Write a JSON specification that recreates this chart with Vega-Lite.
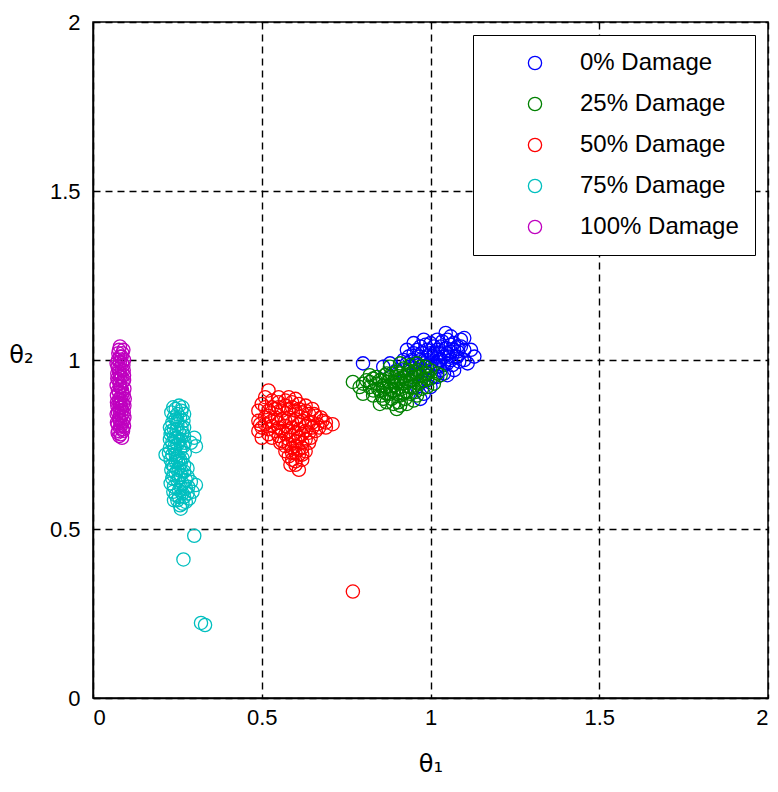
{
  "$schema": "https://vega.github.io/schema/vega-lite/v6.json",
  "width": 675,
  "height": 676,
  "autosize": {"type": "none"},
  "padding": {"left": 93, "top": 22, "right": 10, "bottom": 94},
  "background": "white",
  "config": {
    "view": {"stroke": "black", "strokeWidth": 1.5},
    "font": "Liberation Sans",
    "axis": {
      "grid": true, "gridColor": "black", "gridDash": [7, 5], "gridOpacity": 1, "gridWidth": 1.4,
      "domainColor": "black", "domainWidth": 1.5, "ticks": false,
      "labelColor": "black", "labelFontSize": 22, "labelFont": "Liberation Sans",
      "titleColor": "black", "titleFontSize": 24, "titleFontWeight": "normal", "titleFont": "DejaVu Sans"
    },
    "legend": {
      "orient": "none", "legendX": 380, "legendY": 13,
      "strokeColor": "black", "fillColor": "white", "padding": 16,
      "symbolOffset": 34, "labelOffset": 33, "rowPadding": 17,
      "labelFontSize": 24, "labelFont": "Liberation Sans", "labelColor": "black", "labelLimit": 400,
      "symbolSize": 175, "symbolStrokeWidth": 1.3
    }
  },
  "data": {"values": [
    {"d":"0% Damage","x":0.8,"y":0.99},{"d":"0% Damage","x":0.92,"y":1.0},{"d":"0% Damage","x":0.93,"y":1.03},{"d":"0% Damage","x":0.94,"y":0.98},{"d":"0% Damage","x":0.95,"y":1.02},{"d":"0% Damage","x":0.96,"y":0.96},{"d":"0% Damage","x":0.97,"y":1.04},{"d":"0% Damage","x":0.97,"y":1.0},{"d":"0% Damage","x":0.98,"y":0.97},{"d":"0% Damage","x":0.99,"y":1.03},{"d":"0% Damage","x":1.0,"y":0.99},{"d":"0% Damage","x":1.0,"y":1.05},{"d":"0% Damage","x":1.01,"y":0.95},{"d":"0% Damage","x":1.01,"y":1.02},{"d":"0% Damage","x":1.02,"y":0.98},{"d":"0% Damage","x":1.03,"y":1.04},{"d":"0% Damage","x":1.03,"y":1.0},{"d":"0% Damage","x":1.045,"y":1.08},{"d":"0% Damage","x":1.04,"y":0.96},{"d":"0% Damage","x":1.05,"y":1.02},{"d":"0% Damage","x":1.05,"y":0.99},{"d":"0% Damage","x":1.06,"y":1.045},{"d":"0% Damage","x":1.06,"y":1.0},{"d":"0% Damage","x":1.07,"y":1.03},{"d":"0% Damage","x":1.07,"y":0.97},{"d":"0% Damage","x":1.08,"y":1.01},{"d":"0% Damage","x":1.09,"y":1.06},{"d":"0% Damage","x":1.1,"y":1.03},{"d":"0% Damage","x":1.11,"y":0.99},{"d":"0% Damage","x":1.13,"y":1.01},{"d":"0% Damage","x":0.96,"y":0.92},{"d":"0% Damage","x":0.98,"y":0.9},{"d":"0% Damage","x":0.99,"y":0.94},{"d":"0% Damage","x":0.94,"y":0.94},{"d":"0% Damage","x":0.97,"y":0.885},{"d":"0% Damage","x":1.0,"y":0.92},{"d":"0% Damage","x":1.02,"y":1.06},{"d":"0% Damage","x":0.95,"y":1.05},{"d":"0% Damage","x":1.04,"y":1.01},{"d":"0% Damage","x":0.98,"y":1.06},{"d":"0% Damage","x":0.93,"y":0.99},{"d":"0% Damage","x":1.02,"y":1.01},{"d":"0% Damage","x":1.08,"y":1.04},{"d":"0% Damage","x":0.99,"y":1.0},{"d":"0% Damage","x":1.06,"y":1.07},{"d":"0% Damage","x":1.0,"y":1.02},
    {"d":"0% Damage","x":0.9,"y":0.97},{"d":"0% Damage","x":0.92,"y":0.97},{"d":"0% Damage","x":0.935,"y":1.01},{"d":"0% Damage","x":0.945,"y":1.0},{"d":"0% Damage","x":0.955,"y":0.99},{"d":"0% Damage","x":0.96,"y":1.03},{"d":"0% Damage","x":0.965,"y":1.01},{"d":"0% Damage","x":0.975,"y":1.02},{"d":"0% Damage","x":0.98,"y":0.99},{"d":"0% Damage","x":0.985,"y":1.045},{"d":"0% Damage","x":0.99,"y":0.98},{"d":"0% Damage","x":1.005,"y":1.01},{"d":"0% Damage","x":1.01,"y":1.04},{"d":"0% Damage","x":1.015,"y":0.99},{"d":"0% Damage","x":1.02,"y":1.03},{"d":"0% Damage","x":1.025,"y":1.0},{"d":"0% Damage","x":1.03,"y":1.02},{"d":"0% Damage","x":1.035,"y":1.055},{"d":"0% Damage","x":1.04,"y":0.985},{"d":"0% Damage","x":1.045,"y":1.035},{"d":"0% Damage","x":1.05,"y":1.06},{"d":"0% Damage","x":1.055,"y":1.01},{"d":"0% Damage","x":1.06,"y":1.025},{"d":"0% Damage","x":1.065,"y":0.985},{"d":"0% Damage","x":1.07,"y":1.05},{"d":"0% Damage","x":1.075,"y":1.01},{"d":"0% Damage","x":1.08,"y":1.025},{"d":"0% Damage","x":1.085,"y":0.995},{"d":"0% Damage","x":1.09,"y":1.04},{"d":"0% Damage","x":1.1,"y":1.065},{"d":"0% Damage","x":1.1,"y":1.0},{"d":"0% Damage","x":1.12,"y":1.03},{"d":"0% Damage","x":1.03,"y":0.97},{"d":"0% Damage","x":1.05,"y":0.955},{"d":"0% Damage","x":1.02,"y":0.95},{"d":"0% Damage","x":0.88,"y":0.99},{"d":"0% Damage","x":0.86,"y":0.98},
    {"d":"25% Damage","x":0.77,"y":0.935},{"d":"25% Damage","x":0.79,"y":0.92},{"d":"25% Damage","x":0.8,"y":0.9},{"d":"25% Damage","x":0.81,"y":0.94},{"d":"25% Damage","x":0.82,"y":0.92},{"d":"25% Damage","x":0.83,"y":0.895},{"d":"25% Damage","x":0.84,"y":0.93},{"d":"25% Damage","x":0.84,"y":0.95},{"d":"25% Damage","x":0.85,"y":0.91},{"d":"25% Damage","x":0.86,"y":0.94},{"d":"25% Damage","x":0.86,"y":0.885},{"d":"25% Damage","x":0.87,"y":0.96},{"d":"25% Damage","x":0.87,"y":0.92},{"d":"25% Damage","x":0.88,"y":0.9},{"d":"25% Damage","x":0.88,"y":0.95},{"d":"25% Damage","x":0.89,"y":0.935},{"d":"25% Damage","x":0.89,"y":0.87},{"d":"25% Damage","x":0.9,"y":0.965},{"d":"25% Damage","x":0.9,"y":0.915},{"d":"25% Damage","x":0.9,"y":0.855},{"d":"25% Damage","x":0.91,"y":0.945},{"d":"25% Damage","x":0.91,"y":0.895},{"d":"25% Damage","x":0.92,"y":0.975},{"d":"25% Damage","x":0.92,"y":0.93},{"d":"25% Damage","x":0.93,"y":0.955},{"d":"25% Damage","x":0.93,"y":0.905},{"d":"25% Damage","x":0.93,"y":0.87},{"d":"25% Damage","x":0.94,"y":0.985},{"d":"25% Damage","x":0.94,"y":0.94},{"d":"25% Damage","x":0.95,"y":0.965},{"d":"25% Damage","x":0.95,"y":0.92},{"d":"25% Damage","x":0.96,"y":0.95},{"d":"25% Damage","x":0.96,"y":0.895},{"d":"25% Damage","x":0.97,"y":0.98},{"d":"25% Damage","x":0.97,"y":0.935},{"d":"25% Damage","x":0.98,"y":0.96},{"d":"25% Damage","x":0.99,"y":0.945},{"d":"25% Damage","x":1.0,"y":0.97},{"d":"25% Damage","x":1.01,"y":0.93},{"d":"25% Damage","x":1.03,"y":0.955},{"d":"25% Damage","x":0.85,"y":0.87},{"d":"25% Damage","x":0.91,"y":0.99},{"d":"25% Damage","x":0.95,"y":0.88},{"d":"25% Damage","x":0.82,"y":0.955},{"d":"25% Damage","x":0.88,"y":0.98},{"d":"25% Damage","x":0.86,"y":0.915},{"d":"25% Damage","x":0.9,"y":0.94},{"d":"25% Damage","x":0.92,"y":0.9},{"d":"25% Damage","x":0.94,"y":0.96},{"d":"25% Damage","x":0.89,"y":0.91},
    {"d":"25% Damage","x":0.8,"y":0.93},{"d":"25% Damage","x":0.82,"y":0.935},{"d":"25% Damage","x":0.83,"y":0.91},{"d":"25% Damage","x":0.83,"y":0.945},{"d":"25% Damage","x":0.845,"y":0.915},{"d":"25% Damage","x":0.85,"y":0.94},{"d":"25% Damage","x":0.855,"y":0.895},{"d":"25% Damage","x":0.86,"y":0.925},{"d":"25% Damage","x":0.865,"y":0.955},{"d":"25% Damage","x":0.87,"y":0.9},{"d":"25% Damage","x":0.875,"y":0.935},{"d":"25% Damage","x":0.88,"y":0.915},{"d":"25% Damage","x":0.885,"y":0.96},{"d":"25% Damage","x":0.885,"y":0.885},{"d":"25% Damage","x":0.895,"y":0.925},{"d":"25% Damage","x":0.895,"y":0.95},{"d":"25% Damage","x":0.9,"y":0.9},{"d":"25% Damage","x":0.905,"y":0.875},{"d":"25% Damage","x":0.905,"y":0.935},{"d":"25% Damage","x":0.91,"y":0.96},{"d":"25% Damage","x":0.915,"y":0.915},{"d":"25% Damage","x":0.92,"y":0.95},{"d":"25% Damage","x":0.925,"y":0.885},{"d":"25% Damage","x":0.93,"y":0.935},{"d":"25% Damage","x":0.935,"y":0.97},{"d":"25% Damage","x":0.94,"y":0.92},{"d":"25% Damage","x":0.94,"y":0.9},{"d":"25% Damage","x":0.945,"y":0.95},{"d":"25% Damage","x":0.95,"y":0.94},{"d":"25% Damage","x":0.955,"y":0.905},{"d":"25% Damage","x":0.96,"y":0.97},{"d":"25% Damage","x":0.965,"y":0.93},{"d":"25% Damage","x":0.97,"y":0.955},{"d":"25% Damage","x":0.975,"y":0.915},{"d":"25% Damage","x":0.98,"y":0.94},{"d":"25% Damage","x":0.985,"y":0.98},{"d":"25% Damage","x":0.99,"y":0.96},{"d":"25% Damage","x":1.0,"y":0.945},{"d":"25% Damage","x":0.87,"y":0.875},{"d":"25% Damage","x":0.91,"y":0.865},{"d":"25% Damage","x":0.96,"y":0.99},{"d":"25% Damage","x":0.99,"y":0.92},{"d":"25% Damage","x":1.02,"y":0.96},
    {"d":"50% Damage","x":0.52,"y":0.91},{"d":"50% Damage","x":0.5,"y":0.87},{"d":"50% Damage","x":0.49,"y":0.85},{"d":"50% Damage","x":0.51,"y":0.83},{"d":"50% Damage","x":0.495,"y":0.81},{"d":"50% Damage","x":0.49,"y":0.79},{"d":"50% Damage","x":0.53,"y":0.88},{"d":"50% Damage","x":0.55,"y":0.875},{"d":"50% Damage","x":0.57,"y":0.88},{"d":"50% Damage","x":0.59,"y":0.875},{"d":"50% Damage","x":0.61,"y":0.87},{"d":"50% Damage","x":0.63,"y":0.865},{"d":"50% Damage","x":0.65,"y":0.855},{"d":"50% Damage","x":0.54,"y":0.855},{"d":"50% Damage","x":0.56,"y":0.85},{"d":"50% Damage","x":0.58,"y":0.855},{"d":"50% Damage","x":0.6,"y":0.85},{"d":"50% Damage","x":0.62,"y":0.845},{"d":"50% Damage","x":0.64,"y":0.84},{"d":"50% Damage","x":0.66,"y":0.835},{"d":"50% Damage","x":0.52,"y":0.835},{"d":"50% Damage","x":0.54,"y":0.83},{"d":"50% Damage","x":0.56,"y":0.825},{"d":"50% Damage","x":0.58,"y":0.83},{"d":"50% Damage","x":0.6,"y":0.825},{"d":"50% Damage","x":0.62,"y":0.82},{"d":"50% Damage","x":0.64,"y":0.815},{"d":"50% Damage","x":0.68,"y":0.82},{"d":"50% Damage","x":0.71,"y":0.81},{"d":"50% Damage","x":0.53,"y":0.805},{"d":"50% Damage","x":0.55,"y":0.8},{"d":"50% Damage","x":0.57,"y":0.805},{"d":"50% Damage","x":0.59,"y":0.8},{"d":"50% Damage","x":0.61,"y":0.795},{"d":"50% Damage","x":0.63,"y":0.79},{"d":"50% Damage","x":0.65,"y":0.8},{"d":"50% Damage","x":0.52,"y":0.78},{"d":"50% Damage","x":0.55,"y":0.775},{"d":"50% Damage","x":0.57,"y":0.78},{"d":"50% Damage","x":0.59,"y":0.775},{"d":"50% Damage","x":0.61,"y":0.77},{"d":"50% Damage","x":0.63,"y":0.765},{"d":"50% Damage","x":0.555,"y":0.755},{"d":"50% Damage","x":0.58,"y":0.75},{"d":"50% Damage","x":0.6,"y":0.745},{"d":"50% Damage","x":0.62,"y":0.74},{"d":"50% Damage","x":0.57,"y":0.73},{"d":"50% Damage","x":0.59,"y":0.725},{"d":"50% Damage","x":0.61,"y":0.72},{"d":"50% Damage","x":0.6,"y":0.7},{"d":"50% Damage","x":0.62,"y":0.705},{"d":"50% Damage","x":0.585,"y":0.69},{"d":"50% Damage","x":0.61,"y":0.675},{"d":"50% Damage","x":0.645,"y":0.77},{"d":"50% Damage","x":0.67,"y":0.8},{"d":"50% Damage","x":0.5,"y":0.77},{"d":"50% Damage","x":0.77,"y":0.315},
    {"d":"50% Damage","x":0.51,"y":0.86},{"d":"50% Damage","x":0.53,"y":0.86},{"d":"50% Damage","x":0.55,"y":0.86},{"d":"50% Damage","x":0.57,"y":0.865},{"d":"50% Damage","x":0.59,"y":0.86},{"d":"50% Damage","x":0.61,"y":0.855},{"d":"50% Damage","x":0.63,"y":0.85},{"d":"50% Damage","x":0.655,"y":0.84},{"d":"50% Damage","x":0.675,"y":0.83},{"d":"50% Damage","x":0.69,"y":0.815},{"d":"50% Damage","x":0.51,"y":0.81},{"d":"50% Damage","x":0.53,"y":0.82},{"d":"50% Damage","x":0.55,"y":0.815},{"d":"50% Damage","x":0.57,"y":0.82},{"d":"50% Damage","x":0.59,"y":0.815},{"d":"50% Damage","x":0.61,"y":0.81},{"d":"50% Damage","x":0.63,"y":0.805},{"d":"50% Damage","x":0.65,"y":0.815},{"d":"50% Damage","x":0.665,"y":0.81},{"d":"50% Damage","x":0.69,"y":0.8},{"d":"50% Damage","x":0.5,"y":0.8},{"d":"50% Damage","x":0.52,"y":0.795},{"d":"50% Damage","x":0.54,"y":0.79},{"d":"50% Damage","x":0.56,"y":0.79},{"d":"50% Damage","x":0.58,"y":0.79},{"d":"50% Damage","x":0.6,"y":0.785},{"d":"50% Damage","x":0.62,"y":0.78},{"d":"50% Damage","x":0.64,"y":0.785},{"d":"50% Damage","x":0.66,"y":0.79},{"d":"50% Damage","x":0.53,"y":0.77},{"d":"50% Damage","x":0.56,"y":0.76},{"d":"50% Damage","x":0.58,"y":0.765},{"d":"50% Damage","x":0.6,"y":0.76},{"d":"50% Damage","x":0.62,"y":0.755},{"d":"50% Damage","x":0.64,"y":0.755},{"d":"50% Damage","x":0.57,"y":0.745},{"d":"50% Damage","x":0.59,"y":0.74},{"d":"50% Damage","x":0.61,"y":0.735},{"d":"50% Damage","x":0.63,"y":0.73},{"d":"50% Damage","x":0.58,"y":0.715},{"d":"50% Damage","x":0.6,"y":0.725},{"d":"50% Damage","x":0.62,"y":0.72},{"d":"50% Damage","x":0.59,"y":0.705},{"d":"50% Damage","x":0.6,"y":0.69},{"d":"50% Damage","x":0.51,"y":0.89},{"d":"50% Damage","x":0.55,"y":0.89},{"d":"50% Damage","x":0.58,"y":0.89},{"d":"50% Damage","x":0.6,"y":0.885},{"d":"50% Damage","x":0.49,"y":0.82},{"d":"50% Damage","x":0.52,"y":0.85},
    {"d":"75% Damage","x":0.255,"y":0.865},{"d":"75% Damage","x":0.245,"y":0.855},{"d":"75% Damage","x":0.262,"y":0.85},{"d":"75% Damage","x":0.25,"y":0.84},{"d":"75% Damage","x":0.24,"y":0.83},{"d":"75% Damage","x":0.258,"y":0.83},{"d":"75% Damage","x":0.268,"y":0.82},{"d":"75% Damage","x":0.235,"y":0.815},{"d":"75% Damage","x":0.25,"y":0.81},{"d":"75% Damage","x":0.262,"y":0.8},{"d":"75% Damage","x":0.24,"y":0.795},{"d":"75% Damage","x":0.255,"y":0.785},{"d":"75% Damage","x":0.23,"y":0.78},{"d":"75% Damage","x":0.27,"y":0.775},{"d":"75% Damage","x":0.245,"y":0.77},{"d":"75% Damage","x":0.26,"y":0.765},{"d":"75% Damage","x":0.235,"y":0.755},{"d":"75% Damage","x":0.25,"y":0.75},{"d":"75% Damage","x":0.268,"y":0.745},{"d":"75% Damage","x":0.228,"y":0.74},{"d":"75% Damage","x":0.242,"y":0.735},{"d":"75% Damage","x":0.258,"y":0.73},{"d":"75% Damage","x":0.235,"y":0.72},{"d":"75% Damage","x":0.25,"y":0.715},{"d":"75% Damage","x":0.265,"y":0.71},{"d":"75% Damage","x":0.215,"y":0.72},{"d":"75% Damage","x":0.23,"y":0.705},{"d":"75% Damage","x":0.245,"y":0.7},{"d":"75% Damage","x":0.26,"y":0.695},{"d":"75% Damage","x":0.24,"y":0.685},{"d":"75% Damage","x":0.255,"y":0.68},{"d":"75% Damage","x":0.232,"y":0.675},{"d":"75% Damage","x":0.27,"y":0.67},{"d":"75% Damage","x":0.245,"y":0.665},{"d":"75% Damage","x":0.26,"y":0.66},{"d":"75% Damage","x":0.28,"y":0.655},{"d":"75% Damage","x":0.235,"y":0.65},{"d":"75% Damage","x":0.25,"y":0.645},{"d":"75% Damage","x":0.29,"y":0.64},{"d":"75% Damage","x":0.265,"y":0.635},{"d":"75% Damage","x":0.305,"y":0.63},{"d":"75% Damage","x":0.24,"y":0.625},{"d":"75% Damage","x":0.275,"y":0.62},{"d":"75% Damage","x":0.255,"y":0.615},{"d":"75% Damage","x":0.295,"y":0.61},{"d":"75% Damage","x":0.245,"y":0.6},{"d":"75% Damage","x":0.27,"y":0.595},{"d":"75% Damage","x":0.285,"y":0.59},{"d":"75% Damage","x":0.25,"y":0.585},{"d":"75% Damage","x":0.265,"y":0.575},{"d":"75% Damage","x":0.26,"y":0.56},{"d":"75% Damage","x":0.3,"y":0.77},{"d":"75% Damage","x":0.305,"y":0.745},{"d":"75% Damage","x":0.29,"y":0.755},{"d":"75% Damage","x":0.28,"y":0.68},{"d":"75% Damage","x":0.3,"y":0.48},{"d":"75% Damage","x":0.268,"y":0.41},{"d":"75% Damage","x":0.32,"y":0.222},{"d":"75% Damage","x":0.332,"y":0.216},
    {"d":"75% Damage","x":0.238,"y":0.86},{"d":"75% Damage","x":0.265,"y":0.86},{"d":"75% Damage","x":0.232,"y":0.845},{"d":"75% Damage","x":0.27,"y":0.84},{"d":"75% Damage","x":0.245,"y":0.825},{"d":"75% Damage","x":0.228,"y":0.8},{"d":"75% Damage","x":0.27,"y":0.8},{"d":"75% Damage","x":0.248,"y":0.795},{"d":"75% Damage","x":0.232,"y":0.79},{"d":"75% Damage","x":0.265,"y":0.785},{"d":"75% Damage","x":0.24,"y":0.775},{"d":"75% Damage","x":0.255,"y":0.76},{"d":"75% Damage","x":0.228,"y":0.765},{"d":"75% Damage","x":0.272,"y":0.755},{"d":"75% Damage","x":0.242,"y":0.745},{"d":"75% Damage","x":0.26,"y":0.74},{"d":"75% Damage","x":0.225,"y":0.725},{"d":"75% Damage","x":0.272,"y":0.725},{"d":"75% Damage","x":0.245,"y":0.72},{"d":"75% Damage","x":0.258,"y":0.705},{"d":"75% Damage","x":0.235,"y":0.69},{"d":"75% Damage","x":0.27,"y":0.69},{"d":"75% Damage","x":0.25,"y":0.675},{"d":"75% Damage","x":0.262,"y":0.67},{"d":"75% Damage","x":0.238,"y":0.66},{"d":"75% Damage","x":0.275,"y":0.645},{"d":"75% Damage","x":0.255,"y":0.65},{"d":"75% Damage","x":0.23,"y":0.635},{"d":"75% Damage","x":0.26,"y":0.625},{"d":"75% Damage","x":0.282,"y":0.625},{"d":"75% Damage","x":0.238,"y":0.61},{"d":"75% Damage","x":0.265,"y":0.605},{"d":"75% Damage","x":0.28,"y":0.605},{"d":"75% Damage","x":0.255,"y":0.595},{"d":"75% Damage","x":0.24,"y":0.585},{"d":"75% Damage","x":0.275,"y":0.58},{"d":"75% Damage","x":0.258,"y":0.57},{"d":"75% Damage","x":0.252,"y":0.7},{"d":"75% Damage","x":0.25,"y":0.77},{"d":"75% Damage","x":0.25,"y":0.82},
    {"d":"100% Damage","x":0.08,"y":1.04},{"d":"100% Damage","x":0.075,"y":1.02},{"d":"100% Damage","x":0.085,"y":1.01},{"d":"100% Damage","x":0.08,"y":0.995},{"d":"100% Damage","x":0.07,"y":0.99},{"d":"100% Damage","x":0.09,"y":0.985},{"d":"100% Damage","x":0.078,"y":0.975},{"d":"100% Damage","x":0.086,"y":0.97},{"d":"100% Damage","x":0.072,"y":0.96},{"d":"100% Damage","x":0.092,"y":0.955},{"d":"100% Damage","x":0.08,"y":0.95},{"d":"100% Damage","x":0.075,"y":0.94},{"d":"100% Damage","x":0.088,"y":0.935},{"d":"100% Damage","x":0.07,"y":0.925},{"d":"100% Damage","x":0.083,"y":0.92},{"d":"100% Damage","x":0.093,"y":0.915},{"d":"100% Damage","x":0.077,"y":0.905},{"d":"100% Damage","x":0.087,"y":0.9},{"d":"100% Damage","x":0.071,"y":0.895},{"d":"100% Damage","x":0.082,"y":0.89},{"d":"100% Damage","x":0.094,"y":0.885},{"d":"100% Damage","x":0.076,"y":0.875},{"d":"100% Damage","x":0.089,"y":0.87},{"d":"100% Damage","x":0.072,"y":0.865},{"d":"100% Damage","x":0.084,"y":0.86},{"d":"100% Damage","x":0.079,"y":0.85},{"d":"100% Damage","x":0.091,"y":0.845},{"d":"100% Damage","x":0.07,"y":0.84},{"d":"100% Damage","x":0.085,"y":0.835},{"d":"100% Damage","x":0.077,"y":0.825},{"d":"100% Damage","x":0.09,"y":0.82},{"d":"100% Damage","x":0.073,"y":0.81},{"d":"100% Damage","x":0.083,"y":0.805},{"d":"100% Damage","x":0.088,"y":0.795},{"d":"100% Damage","x":0.075,"y":0.79},{"d":"100% Damage","x":0.082,"y":0.78},{"d":"100% Damage","x":0.078,"y":0.775},{"d":"100% Damage","x":0.086,"y":0.77},{"d":"100% Damage","x":0.08,"y":0.96},{"d":"100% Damage","x":0.08,"y":0.87},{"d":"100% Damage","x":0.08,"y":0.92},{"d":"100% Damage","x":0.08,"y":0.82},{"d":"100% Damage","x":0.074,"y":1.0},{"d":"100% Damage","x":0.09,"y":1.03},
    {"d":"100% Damage","x":0.073,"y":0.785},{"d":"100% Damage","x":0.089,"y":0.79},{"d":"100% Damage","x":0.079,"y":0.8},{"d":"100% Damage","x":0.092,"y":0.805},{"d":"100% Damage","x":0.071,"y":0.815},{"d":"100% Damage","x":0.085,"y":0.815},{"d":"100% Damage","x":0.078,"y":0.83},{"d":"100% Damage","x":0.093,"y":0.83},{"d":"100% Damage","x":0.074,"y":0.845},{"d":"100% Damage","x":0.086,"y":0.85},{"d":"100% Damage","x":0.081,"y":0.86},{"d":"100% Damage","x":0.093,"y":0.865},{"d":"100% Damage","x":0.071,"y":0.875},{"d":"100% Damage","x":0.085,"y":0.88},{"d":"100% Damage","x":0.078,"y":0.885},{"d":"100% Damage","x":0.091,"y":0.895},{"d":"100% Damage","x":0.074,"y":0.91},{"d":"100% Damage","x":0.086,"y":0.91},{"d":"100% Damage","x":0.079,"y":0.93},{"d":"100% Damage","x":0.092,"y":0.94},{"d":"100% Damage","x":0.072,"y":0.945},{"d":"100% Damage","x":0.085,"y":0.95},{"d":"100% Damage","x":0.077,"y":0.965},{"d":"100% Damage","x":0.091,"y":0.97},{"d":"100% Damage","x":0.073,"y":0.98},{"d":"100% Damage","x":0.086,"y":0.99},{"d":"100% Damage","x":0.08,"y":1.01},{"d":"100% Damage","x":0.092,"y":1.0},{"d":"100% Damage","x":0.077,"y":1.03},{"d":"100% Damage","x":0.087,"y":1.02}
  ]},
  "mark": {"type": "point", "shape": "circle", "filled": false, "size": 175, "strokeWidth": 1.3, "opacity": 1},
  "encoding": {
    "x": {"field": "x", "type": "quantitative", "scale": {"domain": [0, 2], "nice": false, "zero": false},
      "axis": {"values": [0, 0.5, 1, 1.5, 2], "format": "~g", "labelPadding": 9, "title": "θ₁", "titlePadding": 24}},
    "y": {"field": "y", "type": "quantitative", "scale": {"domain": [0, 2], "nice": false, "zero": false},
      "axis": {"values": [0, 0.5, 1, 1.5, 2], "format": "~g", "labelPadding": 13, "title": "θ₂", "titleAngle": 0, "titleAlign": "center", "titleBaseline": "middle", "titleX": -72, "titleY": 333}},
    "color": {"field": "d", "type": "nominal",
      "scale": {"domain": ["0% Damage", "25% Damage", "50% Damage", "75% Damage", "100% Damage"], "range": ["#0000FF", "#008000", "#FF0000", "#00BFBF", "#BF00BF"]},
      "legend": {"title": null, "symbolType": "circle"}}
  }
}
